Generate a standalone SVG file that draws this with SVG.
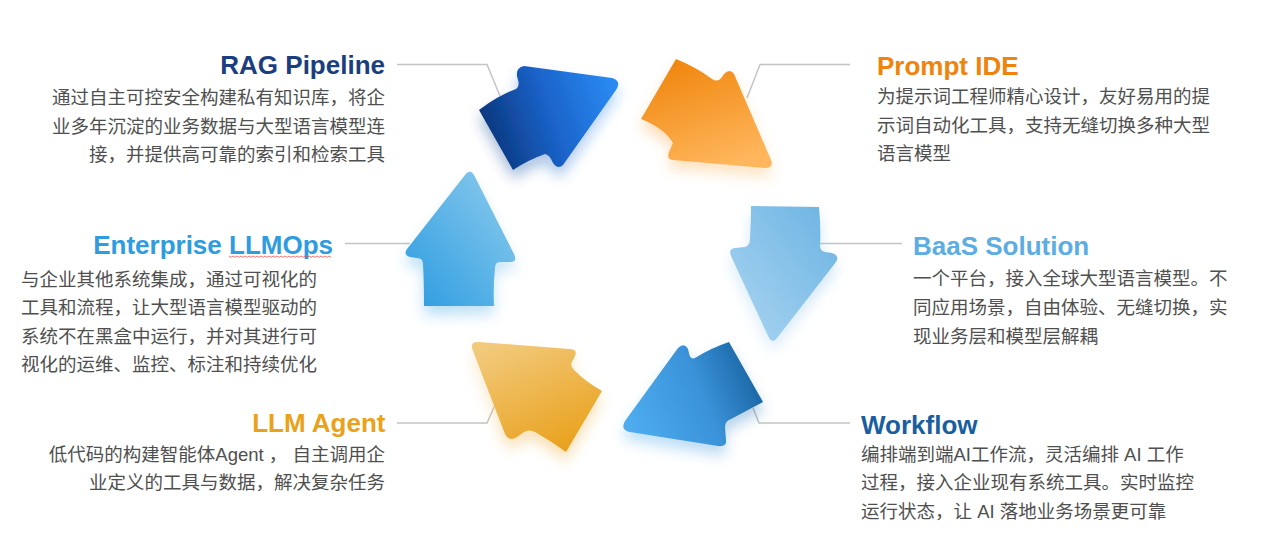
<svg xmlns="http://www.w3.org/2000/svg" width="1269" height="555" viewBox="0 0 1269 555">
<style>
.title{font-family:"Liberation Sans",Arial,sans-serif;font-weight:bold;font-size:26px}
.body{font-family:"Liberation Sans","Noto Sans CJK SC",sans-serif;font-size:18.5px;fill:#4f4f4f}
.conn{fill:none;stroke:#c4c4c4;stroke-width:1.5}
.arrow{filter:url(#glow)}
</style>
<defs>
<filter id="glow" x="-30%" y="-30%" width="160%" height="170%">
<feGaussianBlur in="SourceGraphic" stdDeviation="7" result="b"/>
<feOffset in="b" dy="9" result="o"/>
<feComponentTransfer in="o" result="s"><feFuncA type="linear" slope="0.35"/></feComponentTransfer>
<feMerge><feMergeNode in="s"/><feMergeNode in="SourceGraphic"/></feMerge>
</filter>
<linearGradient id="gRag" x1="0" y1="0.6" x2="1" y2="0.35"><stop offset="0" stop-color="#0a3478"/><stop offset="0.5" stop-color="#1a62c8"/><stop offset="1" stop-color="#2a8af2"/></linearGradient>
<linearGradient id="gPrompt" x1="0.2" y1="0" x2="0.6" y2="1"><stop offset="0" stop-color="#ef850c"/><stop offset="1" stop-color="#ffb65c"/></linearGradient>
<linearGradient id="gBaas" x1="1" y1="0" x2="0" y2="1"><stop offset="0" stop-color="#6ab3e3"/><stop offset="1" stop-color="#acd5f1"/></linearGradient>
<linearGradient id="gWork" x1="0" y1="0.6" x2="1" y2="0.3"><stop offset="0" stop-color="#4dabee"/><stop offset="0.55" stop-color="#3a92d8"/><stop offset="1" stop-color="#16609e"/></linearGradient>
<linearGradient id="gAgent" x1="0.2" y1="0" x2="0.7" y2="1"><stop offset="0" stop-color="#f2ca7c"/><stop offset="1" stop-color="#e9a11c"/></linearGradient>
<linearGradient id="gOps" x1="0" y1="1" x2="1" y2="0"><stop offset="0" stop-color="#2b9be0"/><stop offset="1" stop-color="#8fcdee"/></linearGradient>
</defs>
<rect width="1269" height="555" fill="#ffffff"/>
<g id="connectors">
<path class="conn" d="M397,64.5 H487 L500,96"/>
<path class="conn" d="M747,98 L760,64.5 H850"/>
<path class="conn" d="M345,243.5 H410"/>
<path class="conn" d="M820,243.5 H902"/>
<path class="conn" d="M397,423 H487 L495,405"/>
<path class="conn" d="M753,408 L759,423 H850"/>
</g>
<g id="arrows">
<path id="arrow-rag" class="arrow" fill="url(#gRag)" d="M479,110 Q497,96 516,89 Q520,86 518,80 Q514,68 524,66 L612,78 Q622,81 616,90 L563,165 Q558,170 553,163 Q550,155 545,154 Q528,160 513,170 Z"/>
<path id="arrow-prompt" class="arrow" fill="url(#gPrompt)" d="M676,59 Q696,67 712,79 Q718,83 722,77 L724,74 Q730,68 734,74 L771,160 Q774,168 765,168 L673,160 Q666,159 669,152 L673,143 Q664,128 641,119 Z"/>
<path id="arrow-baas" class="arrow" fill="url(#gBaas)" d="M751,206 L819,207 Q821,228 820,246 Q820,251 825,252 L832,253 Q840,256 836,262 L777,338 Q773,344 769,338 L731,256 Q728,249 735,248 L745,247 Q750,246 750,238 Q751,222 751,206 Z"/>
<path id="arrow-workflow" class="arrow" fill="url(#gWork)" d="M729,342 Q711,348 695,358 Q690,360 689,353 L688,349 Q684,342 678,348 L625,421 Q620,430 630,432 L718,446 Q727,447 726,440 L725,427 Q725,421 731,419 Q748,410 763,402 Z"/>
<path id="arrow-agent" class="arrow" fill="url(#gAgent)" d="M602,391 Q586,382 574,370 Q569,365 573,360 L575,356 Q578,349 569,349 L479,342 Q469,341 473,351 L505,434 Q509,442 517,437 L524,432 Q529,429 535,432 Q551,441 566,452 Z"/>
<path id="arrow-ops" class="arrow" fill="url(#gOps)" d="M465,175 Q470,168 474,175 L514,254 Q518,262 510,262 L500,262 Q495,262 495,268 Q493,287 494,306 L424,306 Q424,282 423,264 Q423,258 417,258 L410,257 Q403,255 407,249 Z"/>
</g>
<g id="node-rag">
<text class="title" x="385" y="74" text-anchor="end" fill="#1b3f7e">RAG Pipeline</text>
<text class="body" text-anchor="end" font-size="18.6"><tspan x="385" y="104">通过自主可控安全构建私有知识库，将企</tspan><tspan x="385" y="132.5">业多年沉淀的业务数据与大型语言模型连</tspan><tspan x="385" y="161">接，并提供高可靠的索引和检索工具</tspan></text>
</g>
<g id="node-prompt">
<text class="title" x="877" y="74.5" fill="#f0830c">Prompt IDE</text>
<text class="body" font-size="18.6"><tspan x="877" y="103">为提示词工程师精心设计，友好易用的提</tspan><tspan x="877" y="131.5">示词自动化工具，支持无缝切换多种大型</tspan><tspan x="877" y="160">语言模型</tspan></text>
</g>
<g id="node-ops">
<text class="title" x="333" y="254" text-anchor="end" fill="#2e9ce0">Enterprise LLMOps</text>
<path d="M229,256 l2,1.4 l2,-1.4 l2,1.4 l2,-1.4 l2,1.4 l2,-1.4 l2,1.4 l2,-1.4 l2,1.4 l2,-1.4 l2,1.4 l2,-1.4 l2,1.4 l2,-1.4 l2,1.4 l2,-1.4 l2,1.4 l2,-1.4 l2,1.4 l2,-1.4 l2,1.4 l2,-1.4 l2,1.4 l2,-1.4 l2,1.4 l2,-1.4 l2,1.4 l2,-1.4 l2,1.4 l2,-1.4 l2,1.4 l2,-1.4 l2,1.4 l2,-1.4 l2,1.4 l2,-1.4 l2,1.4 l2,-1.4 l2,1.4 l2,-1.4 l2,1.4 l2,-1.4 l2,1.4 l2,-1.4 l2,1.4 l2,-1.4 l2,1.4 l2,-1.4 l2,1.4 l2,-1.4 l2,1.4" fill="none" stroke="#e05050" stroke-width="0.8"/>
<text class="body"><tspan x="21" y="285.7">与企业其他系统集成，通过可视化的</tspan><tspan x="21" y="314.2">工具和流程，让大型语言模型驱动的</tspan><tspan x="21" y="342.6">系统不在黑盒中运行，并对其进行可</tspan><tspan x="21" y="371">视化的运维、监控、标注和持续优化</tspan></text>
</g>
<g id="node-baas">
<text class="title" x="913" y="255" fill="#5badE2">BaaS Solution</text>
<text class="body" font-size="18.6"><tspan x="913" y="285.3">一个平台，接入全球大型语言模型。不</tspan><tspan x="913" y="314">同应用场景，自由体验、无缝切换，实</tspan><tspan x="913" y="342.5">现业务层和模型层解耦</tspan></text>
</g>
<g id="node-agent">
<text class="title" x="385.5" y="431.5" text-anchor="end" fill="#e9a21a">LLM Agent</text>
<text class="body" text-anchor="end" font-size="18.6"><tspan x="385" y="460.5">低代码的构建智能体Agent ， 自主调用企</tspan><tspan x="385" y="489">业定义的工具与数据，解决复杂任务</tspan></text>
</g>
<g id="node-workflow">
<text class="title" x="861" y="433.5" fill="#1a5e9f">Workflow</text>
<text class="body" font-size="18.6"><tspan x="861" y="460.5">编排端到端AI工作流，灵活编排 AI 工作</tspan><tspan x="861" y="489">过程，接入企业现有系统工具。实时监控</tspan><tspan x="861" y="517.5">运行状态，让 AI 落地业务场景更可靠</tspan></text>
</g>
</svg>
